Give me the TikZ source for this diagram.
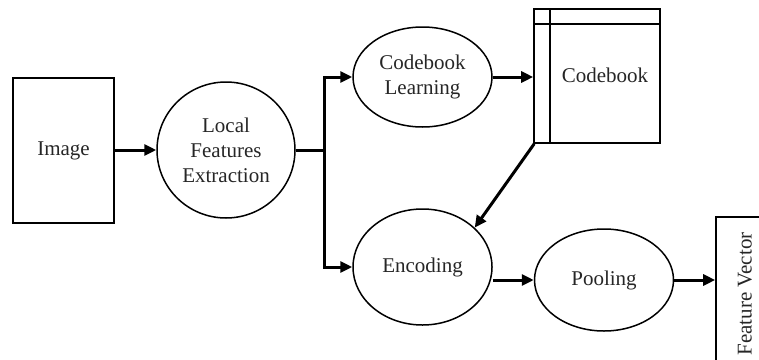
\documentclass[tikz,border=0pt]{standalone}
\usepackage{fontspec}
\setmainfont{Liberation Serif}
\usetikzlibrary{arrows.meta,shapes.geometric}
\begin{document}
\begin{tikzpicture}[x=1pt,y=-1pt,
  every node/.style={font=\fontsize{21}{25}\selectfont, text=black!85},
  ell/.style={draw=black, ellipse, line width=1.5pt, inner sep=0pt, align=center},
  box/.style={draw=black, rectangle, line width=1.6pt, inner sep=0pt},
  arr/.style={line width=3pt, -{Triangle[length=12pt,width=11pt]}},
  ln/.style={line width=3pt}]
\useasboundingbox (0,0) rectangle (759,359);
\node[box, minimum width=101pt, minimum height=145pt] (img) at (63.5,150.5) {Image};
\node[ell, minimum width=138pt, minimum height=136pt] (lfe) at (226,150) {Local\\Features\\Extraction};
\node[ell, minimum width=139pt, minimum height=100pt] (cl) at (422.5,77) {Codebook\\Learning};
\node[box, minimum width=126pt, minimum height=134pt] (cb) at (597,76) {};
\draw[line width=1.6pt] ([yshift=-16pt]cb.north west) -- ([yshift=-16pt]cb.north east);
\draw[line width=1.6pt] ([xshift=17pt]cb.north west) -- ([xshift=17pt]cb.south west);
\node (cbt) at (605,75) {Codebook};
\node[ell, minimum width=139pt, minimum height=116pt] (enc) at (422.5,267) {Encoding};
\node[ell, minimum width=139pt, minimum height=102pt] (pool) at (604,280) {Pooling};
\node[box, minimum width=62pt, minimum height=170pt] (fv) at (747,302) {};
\node[rotate=90] (fvt) at (745,294) {Feature Vector};
\coordinate (j) at (324,150);
\draw[arr] (img.east |- lfe.west) -- (lfe.west);
\draw[ln] (lfe.east) -- (j);
\draw[arr] (j) |- (cl.west);
\draw[arr] (j) |- (enc.west);
\draw[arr] (cl.east) -- (cl.east -| cb.west);
\draw[arr] ([xshift=1pt]cb.south west) -- (enc.37);
\draw[arr] (enc.east |- pool.west) -- (pool.west);
\draw[arr] (pool.east) -- (pool.east -| fv.west);
\end{tikzpicture}
\end{document}
